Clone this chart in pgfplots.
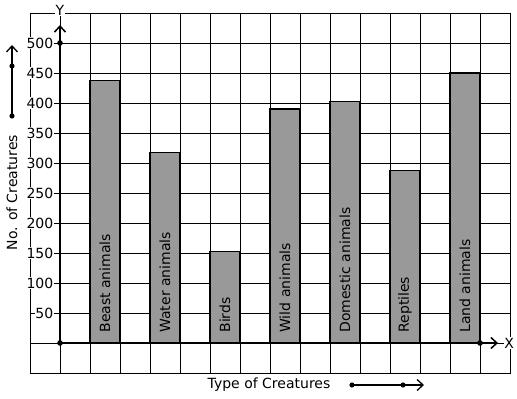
\documentclass[border=0pt]{standalone}
\usepackage{fontspec}
\setmainfont{DejaVu Sans}
\usepackage{pgfplots}
\pgfplotsset{compat=1.18}
\usetikzlibrary{arrows.meta}
\definecolor{bargray}{RGB}{153,153,153}
\begin{document}
\begin{tikzpicture}[font=\fontsize{14}{16.5}\selectfont]
\useasboundingbox (-30pt,-26pt) rectangle (487pt,373pt);
\begin{axis}[
  at={(0pt,0pt)}, anchor=south west,
  x=30pt, y=0.6pt,
  xmin=-1, xmax=15, ymin=-50, ymax=550,
  xtick={-1,0,...,15}, ytick={-50,0,...,550},
  xticklabels={}, yticklabels={},
  grid=major, major grid style={black, line width=0.8pt},
  major tick length=0pt,
  axis line style={black, line width=0.8pt},
  clip=false,
]
\addplot[ybar, bar width=1, fill=bargray, draw=black, line width=1.2pt]
  coordinates {(1.5,437) (3.5,317) (5.5,152) (7.5,390) (9.5,402) (11.5,288) (13.5,450)};
\pgfplotsinvokeforeach{50,100,...,500}{
  \node[anchor=east, fill=white, inner sep=0.5pt] at ([xshift=-6pt]axis cs:0,#1) {#1};
}
\node[rotate=90, anchor=west, inner sep=0pt] at (axis cs:1.5,17) {Beast animals};
\node[rotate=90, anchor=west, inner sep=0pt] at (axis cs:3.5,17) {Water animals};
\node[rotate=90, anchor=west, inner sep=0pt] at (axis cs:5.5,17) {Birds};
\node[rotate=90, anchor=west, inner sep=0pt] at (axis cs:7.5,17) {Wild animals};
\node[rotate=90, anchor=west, inner sep=0pt] at (axis cs:9.5,17) {Domestic animals};
\node[rotate=90, anchor=west, inner sep=0pt] at (axis cs:11.5,17) {Reptiles};
\node[rotate=90, anchor=west, inner sep=0pt] at (axis cs:13.5,17) {Land animals};
\draw[line width=2.8pt, -{Straight Barb[length=6pt,width=11pt,line width=1.5pt]}] (axis cs:0,0) -- (axis cs:0,530);
\draw[line width=2.8pt, -{Straight Barb[length=6pt,width=11pt,line width=1.5pt]}] (axis cs:0,0) -- (axis cs:14.6,0);
\fill (axis cs:0,0) circle (2.8pt);
\fill (axis cs:0,500) circle (2.8pt);
\fill (axis cs:14,0) circle (2.8pt);
\node[fill=white, inner sep=0.5pt] at (axis cs:0,555) {Y};
\node[fill=white, inner sep=0.5pt] at (axis cs:14.97,0) {X};
\end{axis}
% decorations in picture coordinates (grid lower-left corner = origin)
\node[rotate=90] at (-18pt,180.5pt) {No. of Creatures};
\draw[line width=1.8pt, -{Straight Barb[length=6pt,width=11pt,line width=1.3pt]}] (-18pt,257pt) -- (-18pt,328pt);
\fill (-18pt,257pt) circle (2.6pt);
\fill (-18pt,307pt) circle (2.6pt);
\node at (239pt,-12pt) {Type of Creatures};
\draw[line width=1.8pt, -{Straight Barb[length=6pt,width=11pt,line width=1.3pt]}] (322pt,-12pt) -- (394pt,-12pt);
\fill (322pt,-12pt) circle (2.6pt);
\fill (373pt,-12pt) circle (2.6pt);
\end{tikzpicture}
\end{document}
